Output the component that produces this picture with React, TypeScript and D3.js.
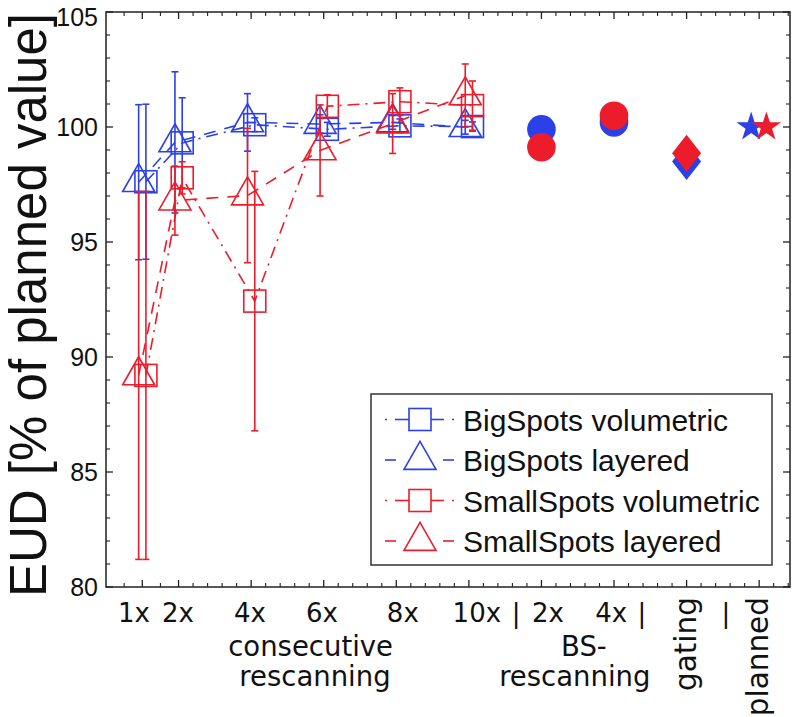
import React from "react";
import * as d3 from "d3";

// ---------- data ----------
const rescanX = [1, 2, 4, 6, 8, 10];
const bigVol = [97.62, 99.31, 100.1, 99.9, 100.05, 100.02];
const bigVolErr = [3.37, 1.96, 0.3, 0.3, 0.3, 0.2];
const bigLay = [97.6, 99.33, 100.2, 100.13, 100.2, 99.99];
const bigLayErr = [3.37, 3.07, 1.25, 0.4, 0.3, 0.3];
const smallVol = [89.2, 97.79, 92.43, 100.9, 101.1, 100.93];
const smallVolErr = [8.0, 0.7, 5.64, 0.5, 0.6, 1.07];
const smallLay = [89.2, 96.8, 97.02, 98.98, 100.15, 101.37];
const smallLayErr = [8.0, 1.5, 2.92, 1.98, 1.3, 1.37];

const bsX = [12, 14];
const bsBig = [99.9, 100.2];
const bsSmall = [99.12, 100.49];
const gatingX = [16];
const gatingBig = [98.5];
const gatingSmall = [98.86];
const plannedX = [18];
const plannedBig = [100];
const plannedSmall = [100];

const xMajorTicks = [1, 2, 4, 6, 8, 10, 12, 14, 16, 18];
const yMajorTicks = [80, 85, 90, 95, 100, 105];
const numLabels = [
  { t: "1x", u: 0.77 },
  { t: "2x", u: 1.98 },
  { t: "4x", u: 3.97 },
  { t: "6x", u: 5.95 },
  { t: "8x", u: 8.18 },
  { t: "10x", u: 10.22 },
  { t: "|", u: 11.3 },
  { t: "2x", u: 12.18 },
  { t: "4x", u: 13.92 },
  { t: "|", u: 14.77 },
  { t: "|", u: 17.08 },
];
const groupLabels = [
  { lines: ["consecutive", "rescanning"], u: [5.64, 5.76] },
  { lines: ["BS-", "rescanning"], u: [13.17, 12.92] },
];
const rotLabels = [
  { t: "gating", u: 16 },
  { t: "planned", u: 18 },
];
const legendNames = [
  "BigSpots volumetric",
  "BigSpots layered",
  "SmallSpots volumetric",
  "SmallSpots layered",
];

// ---------- style ----------
const BLUE = "#2b40e8";
const RED = "#ec1c2a";
const AX = "#222";
const DASH = "12,9";
const DASHDOT = "12,6,2,6";
const SANS = "'Liberation Sans', Arial, sans-serif";
const DJV = "'DejaVu Sans', sans-serif";

const W = 798;
const H = 717;
const x = d3.scaleLinear().domain([0, 18.85]).range([106, 790]);
const y = d3.scaleLinear().domain([80, 105]).range([587, 12]);

const SQ = 11; // half square
const TRI_W = 16;
const TRI_H = 28;

function triPath(cx: number, cy: number) {
  const top = cy - (2 / 3) * TRI_H;
  const bot = cy + (1 / 3) * TRI_H;
  return `M${cx},${top}L${cx + TRI_W},${bot}L${cx - TRI_W},${bot}Z`;
}
function starPath(cx: number, cy: number, R: number) {
  const r = R * 0.382;
  const pts: string[] = [];
  for (let k = 0; k < 10; k++) {
    const a = -Math.PI / 2 + (k * Math.PI) / 5;
    const rr = k % 2 === 0 ? R : r;
    pts.push(`${cx + rr * Math.cos(a)},${cy + rr * Math.sin(a)}`);
  }
  return "M" + pts.join("L") + "Z";
}
function diamondPath(cx: number, cy: number) {
  return `M${cx},${cy - 18.5}L${cx + 14.5},${cy}L${cx},${cy + 18.5}L${cx - 14.5},${cy}Z`;
}

type Series = {
  vals: number[];
  errs: number[];
  color: string;
  marker: "square" | "triangle";
  dash: string;
  off: number;
};

const series: Series[] = [
  { vals: bigVol, errs: bigVolErr, color: BLUE, marker: "square", dash: DASHDOT, off: 0.1 },
  { vals: bigLay, errs: bigLayErr, color: BLUE, marker: "triangle", dash: DASH, off: -0.1 },
  { vals: smallVol, errs: smallVolErr, color: RED, marker: "square", dash: DASHDOT, off: 0.1 },
  { vals: smallLay, errs: smallLayErr, color: RED, marker: "triangle", dash: DASH, off: -0.1 },
];

function SeriesG({ s }: { s: Series }) {
  const pts = rescanX.map((u, i) => [x(u + s.off), y(s.vals[i])] as [number, number]);
  const line = d3.line()(pts) || "";
  return (
    <g>
      <path d={line} fill="none" stroke={s.color} strokeWidth={1.6} strokeDasharray={s.dash} />
      {rescanX.map((u, i) => {
        const cx = x(u + s.off);
        const y1 = y(s.vals[i] + s.errs[i]);
        const y2 = y(s.vals[i] - s.errs[i]);
        return (
          <g key={"e" + i} stroke={s.color} strokeWidth={1.6}>
            <line x1={cx} x2={cx} y1={y1} y2={y2} />
            <line x1={cx - 3.5} x2={cx + 3.5} y1={y1} y2={y1} />
            <line x1={cx - 3.5} x2={cx + 3.5} y1={y2} y2={y2} />
          </g>
        );
      })}
      {rescanX.map((u, i) => {
        const cx = x(u + s.off);
        const cy = y(s.vals[i]);
        return s.marker === "square" ? (
          <rect key={"m" + i} x={cx - SQ} y={cy - SQ} width={2 * SQ} height={2 * SQ} fill="none" stroke={s.color} strokeWidth={1.6} />
        ) : (
          <path key={"m" + i} d={triPath(cx, cy)} fill="none" stroke={s.color} strokeWidth={1.6} />
        );
      })}
    </g>
  );
}

export default function App() {
  const [x0, x1] = x.range();
  const [y0, y1] = [y(80), y(105)];
  const minorX: number[] = [0.5, 1.5, ...d3.range(2, 18.86, 0.4)].filter(
    (u) => !xMajorTicks.some((m) => Math.abs(m - u) < 0.05)
  );
  const minorY = d3.range(80, 105.01, 1).filter((v) => v % 5 !== 0);

  const legendTop = 394;
  const rowY = [419.5, 460, 500.5, 541];

  return (
    <svg width={W} height={H} style={{ position: "absolute", left: 0, top: 0, background: "#fff" }}>
      <rect x={0} y={0} width={W} height={H} fill="#fff" />
      {/* series */}
      {series.map((s, i) => (
        <SeriesG key={i} s={s} />
      ))}
      {/* BS rescanning circles */}
      {bsX.map((u, i) => (
        <circle key={"bb" + i} cx={x(u)} cy={y(bsBig[i])} r={14.3} fill={BLUE} />
      ))}
      {bsX.map((u, i) => (
        <circle key={"bs" + i} cx={x(u)} cy={y(bsSmall[i])} r={14.3} fill={RED} />
      ))}
      {gatingX.map((u, i) => (
        <path key={"gb" + i} d={diamondPath(x(u), y(gatingBig[i]))} fill={BLUE} />
      ))}
      {gatingX.map((u, i) => (
        <path key={"gs" + i} d={diamondPath(x(u), y(gatingSmall[i]))} fill={RED} />
      ))}
      {plannedX.map((u, i) => (
        <path key={"pb" + i} d={starPath(x(u - 0.22), y(plannedBig[i]), 15.5)} fill={BLUE} />
      ))}
      {plannedX.map((u, i) => (
        <path key={"ps" + i} d={starPath(x(u + 0.2), y(plannedSmall[i]), 15.5)} fill={RED} />
      ))}

      {/* frame */}
      <rect x={x0} y={y1} width={x1 - x0} height={y0 - y1} fill="none" stroke={AX} strokeWidth={1.5} />
      {/* x ticks */}
      {xMajorTicks.map((u) => (
        <g key={"xt" + u} stroke={AX} strokeWidth={1.3}>
          <line x1={x(u)} x2={x(u)} y1={y0} y2={y0 - 7} />
          <line x1={x(u)} x2={x(u)} y1={y1} y2={y1 + 7} />
        </g>
      ))}
      {minorX.map((u, i) => (
        <g key={"xm" + i} stroke={AX} strokeWidth={1.1}>
          <line x1={x(u)} x2={x(u)} y1={y0} y2={y0 - 4} />
          <line x1={x(u)} x2={x(u)} y1={y1} y2={y1 + 4} />
        </g>
      ))}
      {/* y ticks */}
      {yMajorTicks.map((v) => (
        <g key={"yt" + v} stroke={AX} strokeWidth={1.3}>
          <line x1={x0} x2={x0 + 7} y1={y(v)} y2={y(v)} />
          <line x1={x1} x2={x1 - 7} y1={y(v)} y2={y(v)} />
        </g>
      ))}
      {minorY.map((v) => (
        <g key={"ym" + v} stroke={AX} strokeWidth={1.1}>
          <line x1={x0} x2={x0 + 4} y1={y(v)} y2={y(v)} />
          <line x1={x1} x2={x1 - 4} y1={y(v)} y2={y(v)} />
        </g>
      ))}
      {/* y tick labels */}
      {yMajorTicks.map((v) => (
        <text
          key={"yl" + v}
          x={98}
          y={v === 105 ? y(v) + 14 : y(v) + 9}
          textAnchor="end"
          fontFamily={SANS}
          fontSize={25}
          fill="#111"
        >
          {v}
        </text>
      ))}
      {/* y title */}
      <text
        transform={`translate(46,${(14 + 596) / 2}) rotate(-90)`}
        textAnchor="middle"
        fontFamily={SANS}
        fontSize={51}
        fill="#111"
      >
        EUD [% of planned value]
      </text>
      {/* x labels */}
      {numLabels.map((l, i) => (
        <text key={"nl" + i} x={x(l.u)} y={622} textAnchor="middle" fontFamily={DJV} fontSize={26} fill="#111">
          {l.t}
        </text>
      ))}
      {groupLabels.map((g, i) =>
        g.lines.map((t, j) => (
          <text
            key={"gl" + i + j}
            x={x(g.u[j])}
            y={656 + j * 30}
            textAnchor="middle"
            fontFamily={DJV}
            fontSize={27.5}
            fill="#111"
          >
            {t}
          </text>
        ))
      )}
      {rotLabels.map((l, i) => (
        <text
          key={"rl" + i}
          transform={`translate(${x(l.u) + 9},597) rotate(-90)`}
          textAnchor="end"
          fontFamily={DJV}
          fontSize={29.5}
          fill="#111"
        >
          {l.t}
        </text>
      ))}

      {/* legend */}
      <rect x={371} y={legendTop} width={401} height={171} fill="#fff" stroke="#333" strokeWidth={1.5} />
      {legendNames.map((name, i) => {
        const s = series[i];
        const cy = rowY[i];
        const cx = 420;
        return (
          <g key={"lg" + i}>
            {s.marker === "square" ? (
              <g stroke={s.color} strokeWidth={1.6}>
                <line x1={385} x2={387} y1={cy} y2={cy} />
                <line x1={395} x2={cx - SQ} y1={cy} y2={cy} />
                <line x1={cx + SQ} x2={444} y1={cy} y2={cy} />
                <line x1={452} x2={454} y1={cy} y2={cy} />
                <rect x={cx - SQ} y={cy - SQ} width={2 * SQ} height={2 * SQ} fill="none" />
              </g>
            ) : (
              <g stroke={s.color} strokeWidth={1.6}>
                <line x1={385} x2={396} y1={cy} y2={cy} />
                <line x1={443} x2={454} y1={cy} y2={cy} />
                <path d={triPath(cx, cy)} fill="none" />
              </g>
            )}
            <text x={463} y={cy + 11} fontFamily={SANS} fontSize={30} fill="#111">
              {name}
            </text>
          </g>
        );
      })}
    </svg>
  );
}
